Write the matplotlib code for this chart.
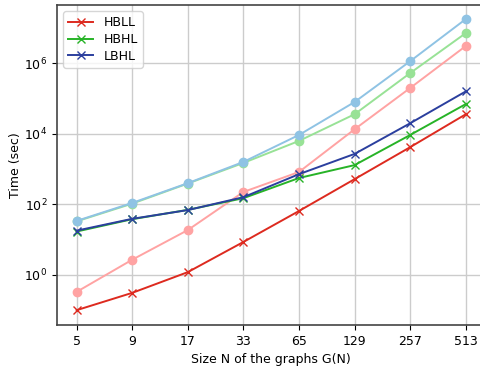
import numpy as np
import matplotlib
matplotlib.use("Agg")
import matplotlib.pyplot as plt

sizes = ["5", "9", "17", "33", "65", "129", "257", "513"]

# measured times (x markers)
hbll = [0.1, 0.31, 1.2, 8.6, 65, 520, 4200, 36000]
hbhl = [17, 38, 70, 150, 560, 1300, 9300, 70000]
lbhl = [18, 39, 69, 160, 720, 2700, 20000, 160000]

# light curves (circle markers)
hbll_light = [0.33, 2.7, 18.7, 225, 830, 13500, 200000, 3100000]
hbhl_light = [33, 105, 390, 1500, 6300, 36000, 530000, 7200000]
lbhl_light = [34, 110, 400, 1600, 9300, 80000, 1150000, 18000000]

plt.rcParams['font.size'] = 9

fig = plt.figure(figsize=(4.8, 3.66), dpi=100)
ax = fig.add_axes([0.119, 0.112, 0.892, 0.874])

x = np.arange(len(sizes))

# light curves first (behind)
ax.plot(x, hbll_light, '-o', color='#ffa3a3', lw=1.4, ms=6)
ax.plot(x, hbhl_light, '-o', color='#98e296', lw=1.4, ms=6)
ax.plot(x, lbhl_light, '-o', color='#8fc3e4', lw=1.4, ms=6)

ax.plot(x, hbll, '-x', color='#dd2a1f', lw=1.4, ms=6, label='HBLL')
ax.plot(x, hbhl, '-x', color='#27b327', lw=1.4, ms=6, label='HBHL')
ax.plot(x, lbhl, '-x', color='#2b3f9e', lw=1.4, ms=6, label='LBHL')

ax.set_yscale('log')
ax.set_ylim(10**-1.42, 10**7.65)
ax.set_yticks([1, 1e2, 1e4, 1e6])
ax.minorticks_off()
ax.set_xticks(x)
ax.set_xticklabels(sizes)
ax.set_xlim(-0.35, 7.35)

ax.grid(True, color='#cccccc', lw=1)
ax.set_axisbelow(True)
for s in ax.spines.values():
    s.set_color('#444444')
    s.set_linewidth(1.2)

ax.set_xlabel('Size N of the graphs G(N)')
ax.set_ylabel('Time (sec)', labelpad=2)
ax.legend(loc='upper left', labelspacing=0.3)

plt.savefig('out.png', dpi=100)
